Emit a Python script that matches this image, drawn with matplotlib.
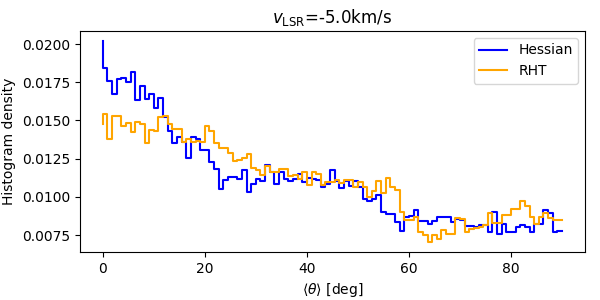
import numpy as np
import matplotlib
matplotlib.use("Agg")
import matplotlib.pyplot as plt

# mean angle bins (deg) and histogram densities
theta = np.linspace(0, 90, 100)

hessian = [
    0.0202, 0.0184, 0.01758, 0.01673, 0.01769, 0.01775, 0.01754, 0.01819, 0.01634, 0.01725,
    0.01640, 0.01673, 0.01583, 0.01644, 0.01524, 0.01431, 0.01350, 0.01394, 0.01357, 0.01256,
    0.01394, 0.01376, 0.01306, 0.01310, 0.01230, 0.01186, 0.01055, 0.01110, 0.01132, 0.01132,
    0.01120, 0.01175, 0.01034, 0.01088, 0.01116, 0.01103, 0.01208, 0.01164, 0.01088, 0.01164,
    0.01120, 0.01105, 0.01120, 0.01147, 0.01099, 0.01125, 0.01120, 0.01110, 0.01066, 0.01088,
    0.01175, 0.01105, 0.01060, 0.01103, 0.01073, 0.01103, 0.01066, 0.00985, 0.00972, 0.00985,
    0.01016, 0.00902, 0.00887, 0.00887, 0.00837, 0.00776, 0.00870, 0.00876, 0.00918, 0.00844,
    0.00844, 0.00824, 0.00844, 0.00870, 0.00870, 0.00870, 0.00837, 0.00859, 0.00848, 0.00811,
    0.00811, 0.00802, 0.00820, 0.00820, 0.00770, 0.00903, 0.00760, 0.00826, 0.00772, 0.00772,
    0.00804, 0.00815, 0.00804, 0.00772, 0.00826, 0.00826, 0.00914, 0.00892, 0.00770, 0.00775,
]

rht = [
    0.01474, 0.01542, 0.01378, 0.01531, 0.01531, 0.01466, 0.01481, 0.01426, 0.01487, 0.01476,
    0.01354, 0.01437, 0.01433, 0.01524, 0.01531, 0.01474, 0.01444, 0.01444, 0.01360, 0.01376,
    0.01360, 0.01365, 0.01360, 0.01466, 0.01433, 0.01354, 0.01317, 0.01317, 0.01290, 0.01234,
    0.01240, 0.01252, 0.01284, 0.01190, 0.01175, 0.01143, 0.01204, 0.01164, 0.01164, 0.01186,
    0.01186, 0.01138, 0.01143, 0.01120, 0.01164, 0.01081, 0.01164, 0.01153, 0.01077, 0.01099,
    0.01099, 0.01110, 0.01092, 0.01114, 0.01114, 0.01066, 0.01099, 0.01066, 0.01001, 0.01038,
    0.01105, 0.01027, 0.01125, 0.01066, 0.01044, 0.00903, 0.00852, 0.00852, 0.00870, 0.00772,
    0.00754, 0.00706, 0.00750, 0.00724, 0.00783, 0.00761, 0.00761, 0.00863, 0.00859, 0.00772,
    0.00793, 0.00798, 0.00804, 0.00820, 0.00896, 0.00833, 0.00833, 0.00881, 0.00881, 0.00920,
    0.00924, 0.00972, 0.00942, 0.00870, 0.00826, 0.00870, 0.00898, 0.00863, 0.00852, 0.00850,
]

vlsr = -5.0

fig, ax = plt.subplots(figsize=(6, 3), dpi=100)
ax.step(theta, hessian, color="blue", linewidth=1.5, label="Hessian")
ax.step(theta, rht, color="orange", linewidth=1.5, label="RHT")
ax.set_xlabel(r"$\langle\theta\rangle$ [deg]")
ax.set_ylabel("Histogram density")
ax.set_title(r"$v_{\rm LSR}$=" + f"{vlsr}km/s")
ax.legend(loc="upper right")
fig.subplots_adjust(left=0.133, right=0.975, top=0.897, bottom=0.16)
fig.savefig("out.png", dpi=100)
plt.close(fig)
